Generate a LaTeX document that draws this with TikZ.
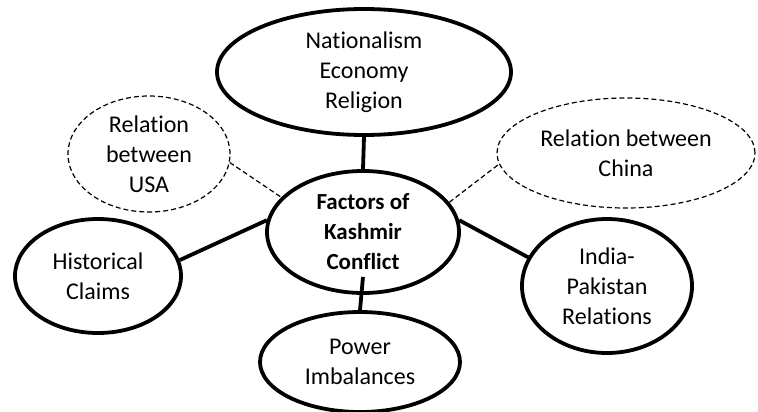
\documentclass[tikz,border=0pt]{standalone}
\usepackage{fontspec}
\setmainfont{Carlito}[Ligatures=NoCommon]
\usetikzlibrary{shapes.geometric}

\begin{document}
\begin{tikzpicture}[
  x=1pt, y=-1pt,
  factor/.style={ellipse, draw, line width=3.8pt, inner sep=0pt, align=center, font=\fontsize{24}{30}\selectfont},
  side_factor/.style={ellipse, draw, line width=1.2pt, dash pattern=on 5pt off 3pt, inner sep=0pt, align=center, font=\fontsize{24}{30}\selectfont},
  link/.style={line width=3.8pt},
  side_link/.style={line width=1.2pt, dash pattern=on 5pt off 3pt},
]
\useasboundingbox (0,0) rectangle (758,412);
\draw (363,232) node (kashmir) [factor, minimum width=192pt, minimum height=122pt, font=\fontsize{23}{30}\selectfont\bfseries] {Factors of\\Kashmir\\Conflict};
\draw (364,72) node (nation) [factor, minimum width=294pt, minimum height=126pt] {Nationalism\\Economy\\Religion};
\draw (98,276) node (history) [factor, minimum width=166pt, minimum height=114pt] {Historical\\Claims};
\draw (607,286) node (india_pak) [factor, minimum width=170pt, minimum height=134pt] {India-\\Pakistan\\Relations};
\draw (360,362) node (power) [factor, minimum width=200pt, minimum height=100pt] {Power\\Imbalances};
\draw (149,154) node (usa) [side_factor, minimum width=162pt, minimum height=116pt] {Relation\\between\\USA};
\draw (626,153) node (china) [side_factor, minimum width=258pt, minimum height=110pt] {Relation between\\China};
% links to the core node
\draw [link] (nation.south) -- (kashmir.north);
\draw [link] ([yshift=18pt]kashmir.south) -- (power.north);
\draw [link] (history.11) -- (kashmir.173);
\draw [link] (kashmir.7) -- (india_pak.160);
\draw [side_link] (usa.354) -- (kashmir.157);
\draw [side_link] (kashmir.19) -- (china.185);
\end{tikzpicture}
\end{document}
